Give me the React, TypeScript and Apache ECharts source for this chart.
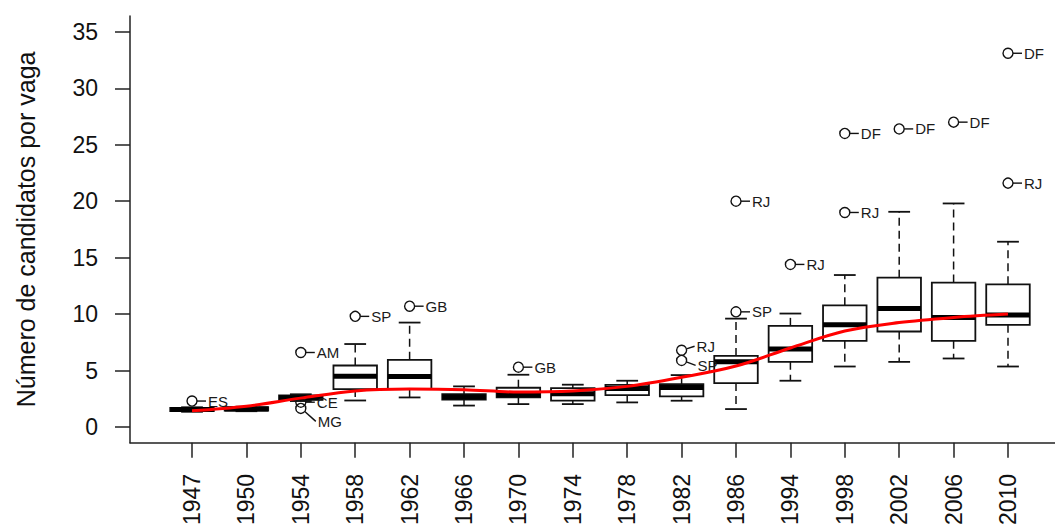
import React, { useEffect, useRef } from "react";
import * as echarts from "echarts";

const years = ["1947", "1950", "1954", "1958", "1962", "1966", "1970", "1974", "1978", "1982", "1986", "1994", "1998", "2002", "2006", "2010"];
const whiskerLow = [1.35, 1.4, 2.3, 2.35, 2.62, 1.9, 2.03, 2.03, 2.18, 2.33, 1.59, 4.1, 5.36, 5.77, 6.07, 5.36];
const quart1 = [1.4, 1.45, 2.4, 3.36, 3.36, 2.42, 2.62, 2.33, 2.83, 2.71, 3.89, 5.77, 7.63, 8.46, 7.63, 9.05];
const medians = [1.55, 1.6, 2.6, 4.5, 4.48, 2.65, 2.85, 2.95, 3.42, 3.5, 5.77, 6.9, 9.05, 10.49, 9.69, 9.93];
const quart3 = [1.7, 1.75, 2.8, 5.45, 5.95, 2.92, 3.48, 3.45, 3.74, 3.8, 6.3, 8.96, 10.78, 13.23, 12.79, 12.64];
const whiskerHigh = [1.75, 1.8, 2.9, 7.35, 9.25, 3.6, 4.63, 3.75, 4.1, 4.6, 9.6, 10.05, 13.46, 19.06, 19.8, 16.41];

const outlierYear = ["1947", "1954", "1954", "1954", "1958", "1962", "1970", "1982", "1982", "1986", "1986", "1994", "1998", "1998", "2002", "2006", "2010", "2010"];
const outlierValue = [2.3, 6.6, 2.2, 1.65, 9.8, 10.7, 5.3, 6.8, 5.9, 20.0, 10.2, 14.4, 26.0, 19.0, 26.4, 27.0, 33.1, 21.6];
const outlierLabel = ["ES", "AM", "CE", "MG", "SP", "GB", "GB", "RJ", "SP", "RJ", "SP", "RJ", "DF", "RJ", "DF", "DF", "DF", "RJ"];

const trendValues = [1.44, 1.85, 2.56, 3.2, 3.36, 3.3, 3.1, 3.2, 3.6, 4.4, 5.4, 7.0, 8.5, 9.25, 9.7, 10.0];

const yTicks = [0, 5, 10, 15, 20, 25, 30, 35];

// label offsets (styling) for crowded outliers, by outlier index
const labelOffsets: Record<number, [number, number]> = {
  3: [17, 13],
  7: [15, -4],
  8: [16, 5],
};

const FONT = '"Liberation Sans", Arial, sans-serif';

export default function App() {
  const ref = useRef<HTMLDivElement>(null);
  useEffect(() => {
    if (!ref.current) return;
    const chart = echarts.init(ref.current, null, { renderer: "svg" });
    const boxData = years.map((_, i) => [i, whiskerLow[i], quart1[i], medians[i], quart3[i], whiskerHigh[i]]);
    const outData = outlierYear.map((y, i) => [years.indexOf(y), outlierValue[i]]);
    const trendData = years.map((_, i) => [i, trendValues[i]]);
    const stroke = "#111";

    const renderBox = (params: any, api: any) => {
      const x = api.value(0);
      const lo = api.coord([x, api.value(1)]);
      const q1 = api.coord([x, api.value(2)]);
      const md = api.coord([x, api.value(3)]);
      const q3 = api.coord([x, api.value(4)]);
      const hi = api.coord([x, api.value(5)]);
      const bw = api.size([0.8, 0])[0];
      const cw = api.size([0.4, 0])[0];
      const cx = lo[0];
      const dashStyle = { stroke, lineWidth: 1.5, lineDash: [8, 5], fill: "none" };
      const solid = { stroke, lineWidth: 1.8, fill: "none" };
      return {
        type: "group",
        children: [
          { type: "line", shape: { x1: cx, y1: q3[1], x2: cx, y2: hi[1] }, style: dashStyle },
          { type: "line", shape: { x1: cx, y1: q1[1], x2: cx, y2: lo[1] }, style: dashStyle },
          { type: "line", shape: { x1: cx - cw / 2, y1: hi[1], x2: cx + cw / 2, y2: hi[1] }, style: solid },
          { type: "line", shape: { x1: cx - cw / 2, y1: lo[1], x2: cx + cw / 2, y2: lo[1] }, style: solid },
          { type: "rect", shape: { x: cx - bw / 2, y: q3[1], width: bw, height: q1[1] - q3[1] }, style: { fill: "#fff", stroke, lineWidth: 1.8 } },
          { type: "line", shape: { x1: cx - bw / 2, y1: md[1], x2: cx + bw / 2, y2: md[1] }, style: { stroke: "#000", lineWidth: 5 } },
        ],
      };
    };

    const renderOutlier = (params: any, api: any) => {
      const p = api.coord([api.value(0), api.value(1)]);
      const idx = params.dataIndex;
      const off = labelOffsets[idx] || [16, 0];
      const len = Math.hypot(off[0], off[1]);
      const ux = off[0] / len, uy = off[1] / len;
      return {
        type: "group",
        children: [
          { type: "circle", shape: { cx: p[0], cy: p[1], r: 5 }, style: { fill: "none", stroke, lineWidth: 1.4 } },
          { type: "line", shape: { x1: p[0] + ux * 5, y1: p[1] + uy * 5, x2: p[0] + off[0] - 2, y2: p[1] + off[1] }, style: { stroke, lineWidth: 1.4 } },
          { type: "text", x: p[0] + off[0], y: p[1] + off[1], style: { text: outlierLabel[idx], fontSize: 15, fontFamily: FONT, fill: "#1a1a1a", align: "left", verticalAlign: "middle" } },
        ],
      };
    };

    chart.setOption({
      animation: false,
      backgroundColor: "#fff",
      grid: { left: 130, top: 16, right: 0, height: 428, containLabel: false },
      xAxis: {
        type: "value",
        min: -1.14,
        max: 15.864,
        splitLine: { show: false },
        axisLine: { show: true, onZero: false, lineStyle: { color: "#222", width: 1.5 } },
        axisTick: { show: true, length: 15, customValues: years.map((_, i) => i), lineStyle: { color: "#222", width: 1.5 } },
        axisLabel: {
          customValues: years.map((_, i) => i),
          formatter: (v: number) => years[Math.round(v)] ?? "",
          rotate: 90,
          margin: 31,
          fontSize: 23,
          fontFamily: FONT,
          color: "#111",
        },
      },
      yAxis: {
        type: "value",
        min: -1.4,
        max: 36.4,
        splitLine: { show: false },
        axisLine: { show: true, onZero: false, lineStyle: { color: "#222", width: 1.5 } },
        axisTick: { show: true, length: 15, customValues: yTicks, lineStyle: { color: "#222", width: 1.5 } },
        axisLabel: { customValues: yTicks, margin: 32, fontSize: 23, fontFamily: FONT, color: "#111" },
        name: "Número de candidatos por vaga",
        nameLocation: "middle",
        nameGap: 92,
        nameTextStyle: { fontSize: 25, fontFamily: FONT, color: "#111" },
      },
      series: [
        { type: "custom", renderItem: renderBox, data: boxData, encode: { x: 0, y: [1, 2, 3, 4, 5] }, z: 2 },
        { type: "custom", renderItem: renderOutlier, data: outData, encode: { x: 0, y: 1 }, z: 3 },
        {
          type: "line",
          data: trendData,
          smooth: 0.35,
          showSymbol: false,
          lineStyle: { color: "#ff0000", width: 3 },
          z: 4,
        },
      ],
    });
    return () => chart.dispose();
  }, []);
  return <div ref={ref} style={{ position: "absolute", left: 0, top: 0, width: 1055, height: 528 }} />;
}
